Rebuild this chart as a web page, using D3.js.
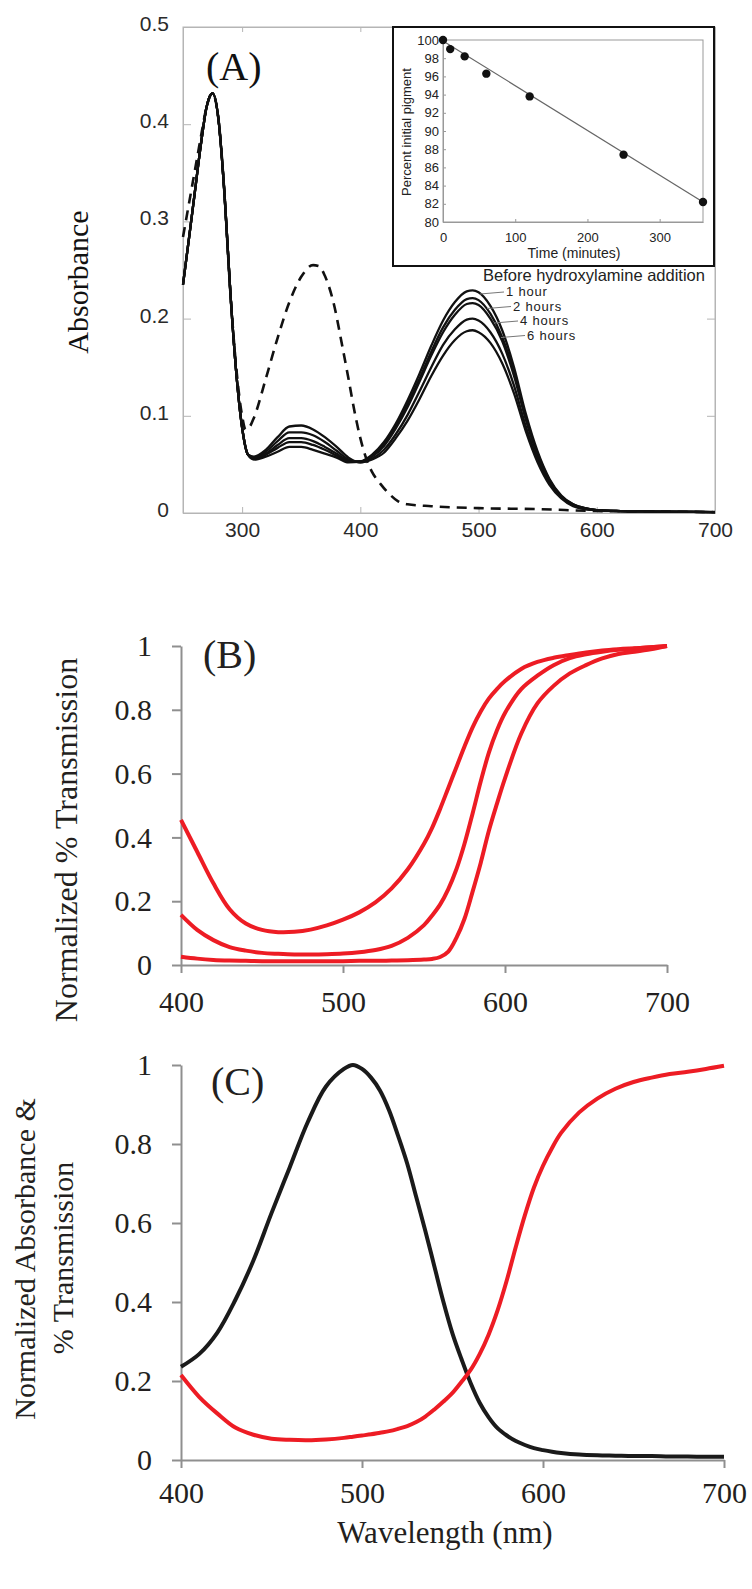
<!DOCTYPE html>
<html>
<head>
<meta charset="utf-8">
<script src="https://cdn.jsdelivr.net/npm/d3@7"></script>
<style>
  body { margin: 0; background: #fff; }
</style>
</head>
<body>
<div id="fig"></div>
<script>
// ---------- data: panel A (absorbance spectra) ----------
const wlA = [250,255,260,265,270,275,280,285,290,295,300,305,310,320,330,340,350,360,370,380,390,400,410,420,430,440,450,460,470,480,490,495,500,510,520,530,540,550,560,570,580,590,600,620,650,700]
const absBefore = [.235,.282,.330,.378,.418,.432,.405,.330,.228,.145,.088,.060,.055,.058,.063,.068,.068,.065,.061,.057,.052,.053,.060,.073,.092,.116,.143,.172,.198,.217,.228,.229,.227,.213,.188,.150,.102,.063,.035,.018,.009,.005,.003,.002,.0015,.001]
const abs1h = [.235,.282,.330,.378,.418,.432,.405,.330,.228,.145,.088,.060,.056,.060,.067,.073,.073,.070,.065,.059,.053,.053,.059,.071,.089,.112,.138,.166,.191,.209,.220,.221,.219,.205,.181,.145,.098,.061,.034,.017,.009,.005,.003,.002,.0015,.001]
const abs2h = [.235,.282,.330,.378,.418,.432,.405,.330,.228,.145,.088,.060,.057,.061,.070,.077,.077,.074,.068,.061,.054,.053,.058,.069,.087,.109,.135,.162,.186,.204,.215,.216,.214,.200,.177,.141,.096,.059,.033,.017,.008,.005,.003,.002,.0015,.001]
const abs4h = [.235,.282,.330,.378,.418,.432,.405,.330,.228,.145,.088,.060,.057,.063,.074,.083,.083,.080,.073,.064,.055,.052,.056,.065,.081,.101,.125,.150,.173,.189,.199,.200,.198,.186,.164,.131,.089,.055,.031,.016,.008,.004,.003,.002,.0015,.001]
const abs6h = [.235,.282,.330,.378,.418,.432,.405,.330,.228,.145,.088,.060,.058,.065,.078,.089,.090,.086,.078,.068,.057,.052,.055,.062,.077,.095,.117,.141,.162,.178,.187,.188,.186,.175,.154,.123,.084,.052,.029,.015,.007,.004,.003,.002,.0015,.001]

// dashed spectrum (after hydroxylamine)
const wlDash = [250,255,260,265,270,275,280,285,290,295,300,303,306,310,320,330,340,350,360,365,370,377,385,390,395,400,405,410,417,425,432,440,460,500,550,600,650,700]
const absDash = [.284,.318,.352,.386,.418,.432,.405,.330,.228,.150,.100,.086,.088,.098,.138,.180,.217,.243,.255,.254,.244,.218,.170,.138,.105,.077,.056,.042,.030,.019,.012,.009,.007,.005,.004,.002,.0015,.001]

const legendLabels = ["Before hydroxylamine addition", "1 hour", "2 hours", "4 hours", "6 hours"]

const ticksXA = [300,400,500,600,700]
const ticksYA = [0,0.1,0.2,0.3,0.4,0.5]

// inset: percent of initial pigment vs time
const insetTime = [0,10,30,60,120,250,360]
const insetPct = [100,99.0,98.2,96.3,93.8,87.4,82.2]
const fitTime = [0,360]
const fitPct = [99.9,82.2]
const ticksXInset = [0,100,200,300]
const ticksYInset = [80,82,84,86,88,90,92,94,96,98,100]

// ---------- data: panel B (normalized % transmission) ----------
const wlB = [400,410,420,430,440,450,460,470,480,490,500,510,520,530,540,550,555,560,565,570,575,580,585,590,595,600,610,620,630,640,650,660,670,680,690,700]
const transB1 = [.455,.355,.256,.175,.130,.110,.103,.104,.111,.124,.142,.165,.196,.240,.300,.380,.430,.49,.555,.62,.685,.745,.795,.835,.865,.89,.928,.950,.963,.972,.980,.986,.990,.993,.996,1.0]
const transB2 = [.157,.110,.078,.056,.045,.038,.035,.033,.033,.034,.036,.040,.047,.060,.085,.125,.155,.19,.238,.30,.38,.475,.575,.665,.735,.79,.865,.907,.94,.962,.974,.982,.988,.992,.996,1.0]
const transB3 = [.026,.020,.016,.014,.013,.012,.012,.012,.012,.012,.012,.013,.013,.014,.015,.017,.019,.025,.042,.085,.145,.23,.32,.42,.505,.585,.725,.82,.875,.914,.94,.961,.975,.982,.99,1.0]

// ---------- data: panel C (absorbance vs transmission) ----------
const wlC = [400,410,420,430,440,450,460,470,480,490,495,500,505,510,515,520,525,530,535,540,545,550,555,560,565,570,575,580,585,590,595,600,605,610,620,630,640,650,660,670,680,690,700]
const absC = [.236,.268,.322,.405,.505,.625,.74,.855,.945,.99,1.0,.99,.968,.935,.885,.82,.75,.665,.58,.49,.40,.32,.255,.195,.145,.108,.08,.062,.048,.038,.03,.025,.021,.018,.014,.012,.011,.010,.010,.009,.009,.008,.008]
const transC = [.215,.16,.118,.082,.064,.054,.051,.050,.052,.056,.059,.062,.065,.069,.073,.079,.086,.096,.11,.128,.148,.170,.198,.228,.268,.318,.38,.455,.54,.62,.69,.745,.79,.828,.88,.915,.94,.957,.968,.977,.983,.99,.998]

const ticksXBC = [400,500,600,700]
const ticksYBC = [0,0.2,0.4,0.6,0.8,1]

// ---------- drawing ----------
const SANS = "Liberation Sans, Arial, sans-serif"
const SERIF = "Liberation Serif, Times New Roman, serif"
const RED = "#ed1c24"

const svg = d3.select("#fig").append("svg")
    .attr("width", 752)
    .attr("height", 1589)

function styleAxis(g, color, width, family, size, textColor) {
    g.selectAll("path.domain").attr("stroke", color).attr("stroke-width", width)
    g.selectAll(".tick line").attr("stroke", color).attr("stroke-width", width)
    g.selectAll(".tick text")
        .style("font-family", family)
        .style("font-size", size + "px")
        .attr("fill", textColor)
}

function drawPanelA() {
    const xA = d3.scaleLinear().domain([250, 700]).range([183, 715])
    const yA = d3.scaleLinear().domain([0, 0.5]).range([513, 27])
    const g = svg.append("g")
    const frameColor = "#b5b5b5"

    // box around plot
    g.append("rect")
        .attr("x", xA(250)).attr("y", yA(0.5))
        .attr("width", xA(700) - xA(250)).attr("height", yA(0) - yA(0.5))
        .attr("fill", "none").attr("stroke", frameColor)

    // bottom axis and ticks (inward)
    const bx = g.append("g")
        .attr("transform", `translate(0,${yA(0)})`)
        .call(d3.axisBottom(xA).tickValues(ticksXA).tickSize(-6).tickSizeOuter(0).tickPadding(9))
    styleAxis(bx, frameColor, 1, SANS, 21, "#2a2a2a")

    // top ticks, no labels
    const tx = g.append("g")
        .attr("transform", `translate(0,${yA(0.5)})`)
        .call(d3.axisTop(xA).tickValues(ticksXA).tickSize(-5).tickSizeOuter(0).tickFormat(""))
    styleAxis(tx, frameColor, 1, SANS, 21, "#2a2a2a")

    // left axis
    const ly = g.append("g")
        .attr("transform", `translate(${xA(250)},0)`)
        .call(d3.axisLeft(yA).tickValues(ticksYA).tickSize(-8).tickSizeOuter(0).tickPadding(14).tickFormat(d3.format("~g")))
    styleAxis(ly, frameColor, 1, SANS, 21, "#2a2a2a")
    ly.selectAll(".tick text").attr("dy", "0.17em")

    // right ticks
    const ry = g.append("g")
        .attr("transform", `translate(${xA(700)},0)`)
        .call(d3.axisRight(yA).tickValues(ticksYA).tickSize(-8).tickSizeOuter(0).tickFormat(""))
    styleAxis(ry, frameColor, 1, SANS, 21, "#2a2a2a")

    // spectra
    const lineA = d3.line()
        .x((d, i) => xA(wlA[i]))
        .y(d => yA(d))
        .curve(d3.curveMonotoneX)
    const solid = [absBefore, abs1h, abs2h, abs4h, abs6h]
    solid.forEach(series => {
        g.append("path")
            .datum(series)
            .attr("d", lineA)
            .attr("fill", "none")
            .attr("stroke", "#111")
            .attr("stroke-width", 2.3)
    })

    const lineDash = d3.line()
        .x((d, i) => xA(wlDash[i]))
        .y(d => yA(d))
        .curve(d3.curveMonotoneX)
    g.append("path")
        .datum(absDash)
        .attr("d", lineDash)
        .attr("fill", "none")
        .attr("stroke", "#111")
        .attr("stroke-width", 2.6)
        .attr("stroke-dasharray", "10,7")

    // legend labels + leader lines
    legendLabels.forEach((label, i) => {
        let lx, ly, fs
        if (i == 0) {
            lx = 483; ly = 281; fs = 16.5
        } else {
            lx = 506 + (i - 1) * 7; ly = 296 + (i - 1) * 14.5; fs = 13
            g.append("line")
                .attr("x1", lx - 26).attr("y1", ly - 2)
                .attr("x2", lx - 2).attr("y2", ly - 4)
                .attr("stroke", "#777").attr("stroke-width", 1)
        }
        g.append("text")
            .attr("x", lx).attr("y", ly)
            .style("font-family", SANS)
            .style("font-size", fs + "px")
            .style("letter-spacing", i == 0 ? "0px" : "0.8px")
            .attr("fill", "#222")
            .text(label)
    })

    // panel letter
    g.append("text")
        .attr("x", 206).attr("y", 80)
        .style("font-family", SERIF)
        .style("font-size", "40px")
        .attr("fill", "#111")
        .text("(A)")

    // Y label
    g.append("text")
        .attr("text-anchor", "middle")
        .attr("transform", "translate(88,282)rotate(-90)")
        .style("font-family", SERIF)
        .style("font-size", "30px")
        .attr("fill", "#111")
        .text("Absorbance")

    drawInset(g)
}

function drawInset(parent) {
    const g = parent.append("g")
    g.append("rect")
        .attr("x", 393).attr("y", 27)
        .attr("width", 321).attr("height", 239)
        .attr("fill", "#fff").attr("stroke", "#111").attr("stroke-width", 2)

    const xI = d3.scaleLinear().domain([0, 360]).range([443, 703])
    const yI = d3.scaleLinear().domain([80, 100]).range([222, 40])

    g.append("rect")
        .attr("x", xI(0)).attr("y", yI(100))
        .attr("width", xI(360) - xI(0)).attr("height", yI(80) - yI(100))
        .attr("fill", "none").attr("stroke", "#999")

    const bx = g.append("g")
        .attr("transform", `translate(0,${yI(80)})`)
        .call(d3.axisBottom(xI).tickValues(ticksXInset).tickSize(-3).tickSizeOuter(0).tickPadding(11))
    styleAxis(bx, "#999", 1, SANS, 13, "#222")

    const ly = g.append("g")
        .attr("transform", `translate(${xI(0)},0)`)
        .call(d3.axisLeft(yI).tickValues(ticksYInset).tickSize(-3).tickSizeOuter(0).tickPadding(4))
    styleAxis(ly, "#999", 1, SANS, 13, "#222")

    // regression line
    g.append("path")
        .datum(fitPct)
        .attr("d", d3.line().x((d, i) => xI(fitTime[i])).y(d => yI(d)))
        .attr("fill", "none")
        .attr("stroke", "#666")
        .attr("stroke-width", 1.2)

    g.selectAll("circle.pt")
        .data(insetPct)
        .join("circle")
        .attr("class", "pt")
        .attr("cx", (d, i) => xI(insetTime[i]))
        .attr("cy", d => yI(d))
        .attr("r", 4.2)
        .attr("fill", "#111")

    g.append("text")
        .attr("x", 574).attr("y", 258)
        .attr("text-anchor", "middle")
        .style("font-family", SANS)
        .style("font-size", "14px")
        .attr("fill", "#222")
        .text("Time (minutes)")

    g.append("text")
        .attr("text-anchor", "middle")
        .attr("transform", "translate(411,132)rotate(-90)")
        .style("font-family", SANS)
        .style("font-size", "13px")
        .attr("fill", "#222")
        .text("Percent initial pigment")
}

// shared axes for the lower two panels
function drawSerifAxes(g, x, y, padX) {
    const axisColor = "#8f8f8f"
    const bx = g.append("g")
        .attr("transform", `translate(0,${y(0)})`)
        .call(d3.axisBottom(x).tickValues(ticksXBC).tickSize(8).tickSizeOuter(0).tickPadding(padX))
    styleAxis(bx, axisColor, 2, SERIF, 30, "#231f20")

    const ly = g.append("g")
        .attr("transform", `translate(${x(400)},0)`)
        .call(d3.axisLeft(y).tickValues(ticksYBC).tickSize(9).tickSizeOuter(0).tickPadding(20).tickFormat(d3.format("~g")))
    styleAxis(ly, axisColor, 2, SERIF, 30, "#231f20")
}

function drawPanelB() {
    const xB = d3.scaleLinear().domain([400, 700]).range([181, 667])
    const yB = d3.scaleLinear().domain([0, 1]).range([965, 646])
    const g = svg.append("g")

    drawSerifAxes(g, xB, yB, 18)

    const lineB = d3.line()
        .x((d, i) => xB(wlB[i]))
        .y(d => yB(d))
        .curve(d3.curveCatmullRom.alpha(0.5))
    const series = [transB1, transB2, transB3]
    series.forEach(s => {
        g.append("path")
            .datum(s)
            .attr("d", lineB)
            .attr("fill", "none")
            .attr("stroke", RED)
            .attr("stroke-width", 4)
    })

    g.append("text")
        .attr("x", 203).attr("y", 668)
        .style("font-family", SERIF)
        .style("font-size", "40px")
        .attr("fill", "#231f20")
        .text("(B)")

    g.append("text")
        .attr("text-anchor", "middle")
        .attr("transform", "translate(77,840)rotate(-90)")
        .style("font-family", SERIF)
        .style("font-size", "32px")
        .attr("fill", "#231f20")
        .text("Normalized % Transmission")
}

function drawPanelC() {
    const xC = d3.scaleLinear().domain([400, 700]).range([181, 724])
    const yC = d3.scaleLinear().domain([0, 1]).range([1460, 1065])
    const g = svg.append("g")

    drawSerifAxes(g, xC, yC, 14)

    const lineC = d3.line()
        .x((d, i) => xC(wlC[i]))
        .y(d => yC(d))
        .curve(d3.curveCatmullRom.alpha(0.5))

    g.append("path")
        .datum(absC)
        .attr("d", lineC)
        .attr("fill", "none")
        .attr("stroke", "#1a1a1a")
        .attr("stroke-width", 4)

    g.append("path")
        .datum(transC)
        .attr("d", lineC)
        .attr("fill", "none")
        .attr("stroke", RED)
        .attr("stroke-width", 4)

    g.append("text")
        .attr("x", 211).attr("y", 1095)
        .style("font-family", SERIF)
        .style("font-size", "40px")
        .attr("fill", "#231f20")
        .text("(C)")

    // two line Y label
    g.append("text")
        .attr("text-anchor", "middle")
        .attr("transform", "translate(35,1259)rotate(-90)")
        .style("font-family", SERIF)
        .style("font-size", "30px")
        .attr("fill", "#231f20")
        .text("Normalized Absorbance &")
    g.append("text")
        .attr("text-anchor", "middle")
        .attr("transform", "translate(73,1258)rotate(-90)")
        .style("font-family", SERIF)
        .style("font-size", "30px")
        .attr("fill", "#231f20")
        .text("% Transmission")

    // X label
    g.append("text")
        .attr("x", 445).attr("y", 1543)
        .attr("text-anchor", "middle")
        .style("font-family", SERIF)
        .style("font-size", "31px")
        .attr("fill", "#231f20")
        .text("Wavelength (nm)")
}

drawPanelA()
drawPanelB()
drawPanelC()
</script>
</body>
</html>
